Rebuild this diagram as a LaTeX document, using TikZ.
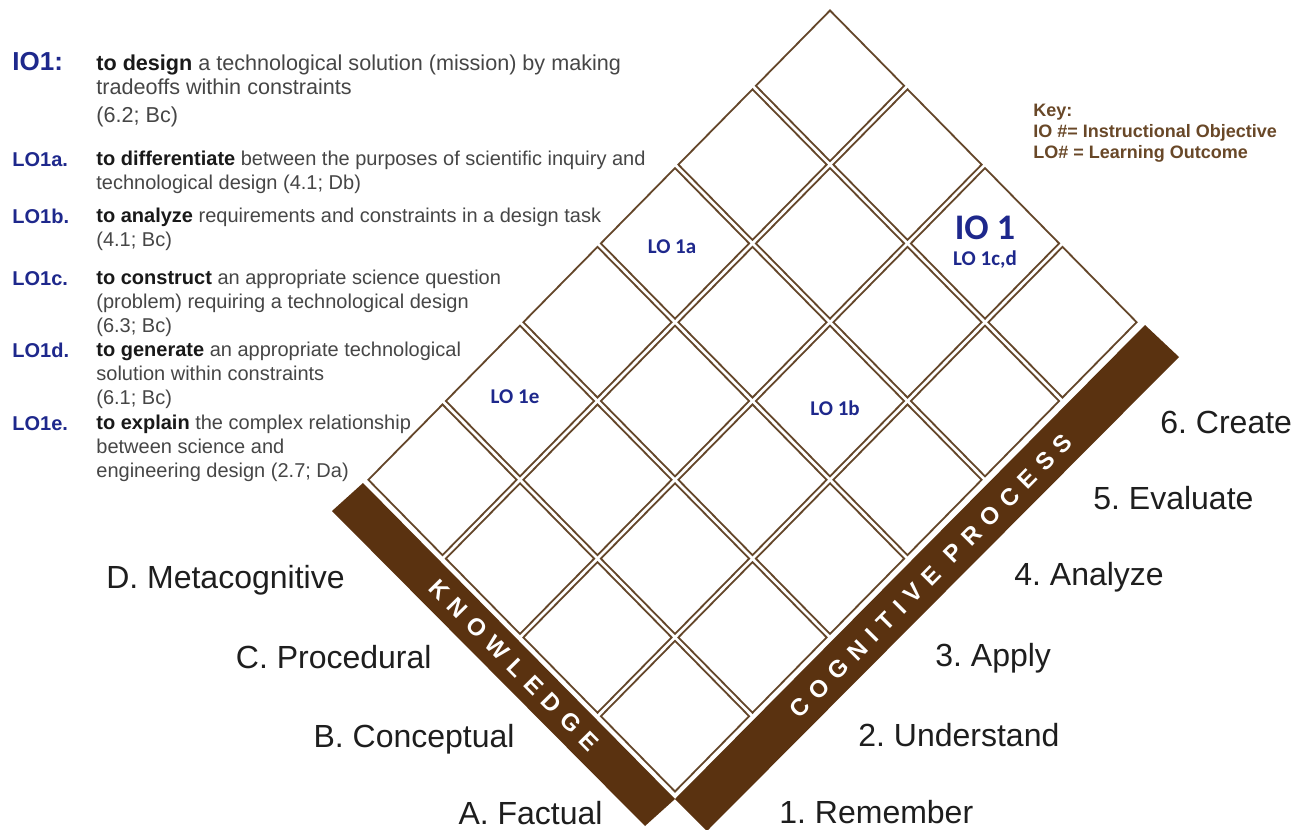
\documentclass[tikz,border=0pt]{standalone}
\usepackage{fontspec}
\setmainfont{Liberation Sans}
\newfontfamily\cellfont{Carlito}
\newfontfamily\barfont[LetterSpace=37]{Liberation Sans}
\usetikzlibrary{shapes.geometric, positioning}
\frenchspacing

\definecolor{lonavy}{RGB}{30,40,140}
\definecolor{barbrown}{RGB}{90,50,16}
\definecolor{cellbrown}{RGB}{100,70,42}
\definecolor{keybrown}{RGB}{105,72,40}
\definecolor{bodygrey}{RGB}{70,70,70}
\definecolor{verbblack}{RGB}{25,25,25}
\definecolor{labelblack}{RGB}{30,30,30}

\newcommand{\objverb}[1]{\textcolor{verbblack}{\textbf{#1}}}

\tikzset{
  cell/.style={draw=cellbrown, line width=0.9pt, shape=diamond, minimum width=74.5pt, minimum height=75.7pt, inner sep=0pt},
  cellnote/.style={text=lonavy, font=\cellfont\bfseries\fontsize{10.5pt}{12pt}\selectfont, inner sep=0pt},
  objlabel/.style={text=lonavy, font=\bfseries\fontsize{10pt}{12pt}\selectfont, inner sep=0pt, anchor=base west},
  objtext/.style={text=bodygrey, font=\fontsize{10pt}{12pt}\selectfont, align=left, inner sep=0pt, anchor=north west},
  dimlabel/.style={text=labelblack, font=\fontsize{16pt}{19pt}\selectfont, inner sep=0pt},
  bartext/.style={text=white, font=\barfont\bfseries\fontsize{12pt}{14pt}\selectfont, inner sep=0pt},
  bar/.style={fill=barbrown}
}

\begin{document}
\begin{tikzpicture}[x=0.5pt, y=-0.5pt]
\fill[white] (0,0) rectangle (1297,830);
\useasboundingbox (0,0) rectangle (1297,830);

% taxonomy grid: 6 cognitive columns x 4 knowledge rows
\foreach \c in {0,...,5}
  \foreach \k in {0,...,3}
    \node[cell] (cell\c\k) at ({675+(\c-\k)*77.5},{795-(\c+\k+1)*78.8}) {};

\node[cellnote] (lo1a) at ([xshift=-1.5pt,yshift=-1.8pt]cell33) {LO 1a};
\node[cellnote] (lo1b) at ([xshift=2.5pt,yshift=-3.5pt]cell31) {LO 1b};
\node[cellnote] (lo1e) at ([xshift=-2.5pt,yshift=2pt]cell13) {LO 1e};
\node[cellnote, font=\cellfont\bfseries\fontsize{18pt}{20pt}\selectfont] (io1) at ([yshift=7.7pt]cell51) {IO 1};
\node[cellnote, below=5pt of io1] (lo1cd) {LO 1c,d};

% axis bars
\coordinate (apex) at (675,799);
\fill[bar] (apex) -- (363,483) -- (332,511) -- (645,826) -- cycle;
\fill[bar] (apex) -- (1145,325) -- (1179,357) -- (707,831) -- cycle;
\node[bartext, rotate=-45.4] (know) at (514,665) {KNOWLEDGE};
\node[bartext, rotate=45.2] (cogn) at (931,576) {COGNITIVE PROCESS};

% knowledge dimension
\node[dimlabel, anchor=base east] (kD) at (345,588) {D. Metacognitive};
\node[dimlabel, anchor=base east] (kC) at (432,668) {C. Procedural};
\node[dimlabel, anchor=base east] (kB) at (515,747) {B. Conceptual};
\node[dimlabel, anchor=base east] (kA) at (603,824) {A. Factual};

% cognitive process dimension
\node[dimlabel, anchor=base west] (p6) at (1160,433) {6. Create};
\node[dimlabel, anchor=base west] (p5) at (1093,509) {5. Evaluate};
\node[dimlabel, anchor=base west] (p4) at (1014,585) {4. Analyze};
\node[dimlabel, anchor=base west] (p3) at (935,666) {3. Apply};
\node[dimlabel, anchor=base west] (p2) at (858,746) {2. Understand};
\node[dimlabel, anchor=base west] (p1) at (779,823) {1. Remember};

% objectives
\node[objlabel, font=\bfseries\fontsize{13pt}{15pt}\selectfont] (io1lbl) at (12,70) {IO1:};
\node[objtext, font=\fontsize{10.8pt}{12.4pt}\selectfont] (io1txt) at (96,54) {\objverb{to design} a technological solution (mission) by making\\
  tradeoffs within constraints\\[1.5pt] (6.2; Bc)};
\node[objlabel] (lo1albl) at (12,166) {LO1a.};
\node[objtext] (lo1atxt) at (96,151) {\objverb{to differentiate} between the purposes of scientific inquiry and\\
  technological design (4.1; Db)};
\node[objlabel] (lo1blbl) at (12,223) {LO1b.};
\node[objtext] (lo1btxt) at (96,208) {\objverb{to analyze} requirements and constraints in a design task\\
  (4.1; Bc)};
\node[objlabel] (lo1clbl) at (12,285) {LO1c.};
\node[objtext] (lo1ctxt) at (96,270) {\objverb{to construct} an appropriate science question\\
  (problem) requiring a technological design\\ (6.3; Bc)};
\node[objlabel] (lo1dlbl) at (12,357) {LO1d.};
\node[objtext] (lo1dtxt) at (96,342) {\objverb{to generate} an appropriate technological\\
  solution within constraints\\ (6.1; Bc)};
\node[objlabel] (lo1elbl) at (12,430) {LO1e.};
\node[objtext] (lo1etxt) at (96,415) {\objverb{to explain} the complex relationship\\
  between science and\\ engineering design (2.7; Da)};

% key
\node[text=keybrown, font=\bfseries\fontsize{9pt}{10.5pt}\selectfont, align=left, inner sep=0pt, anchor=north west] (key) at (1033,104)
  {Key:\\ IO \#= Instructional Objective\\ LO\# = Learning Outcome};

\end{tikzpicture}
\end{document}
